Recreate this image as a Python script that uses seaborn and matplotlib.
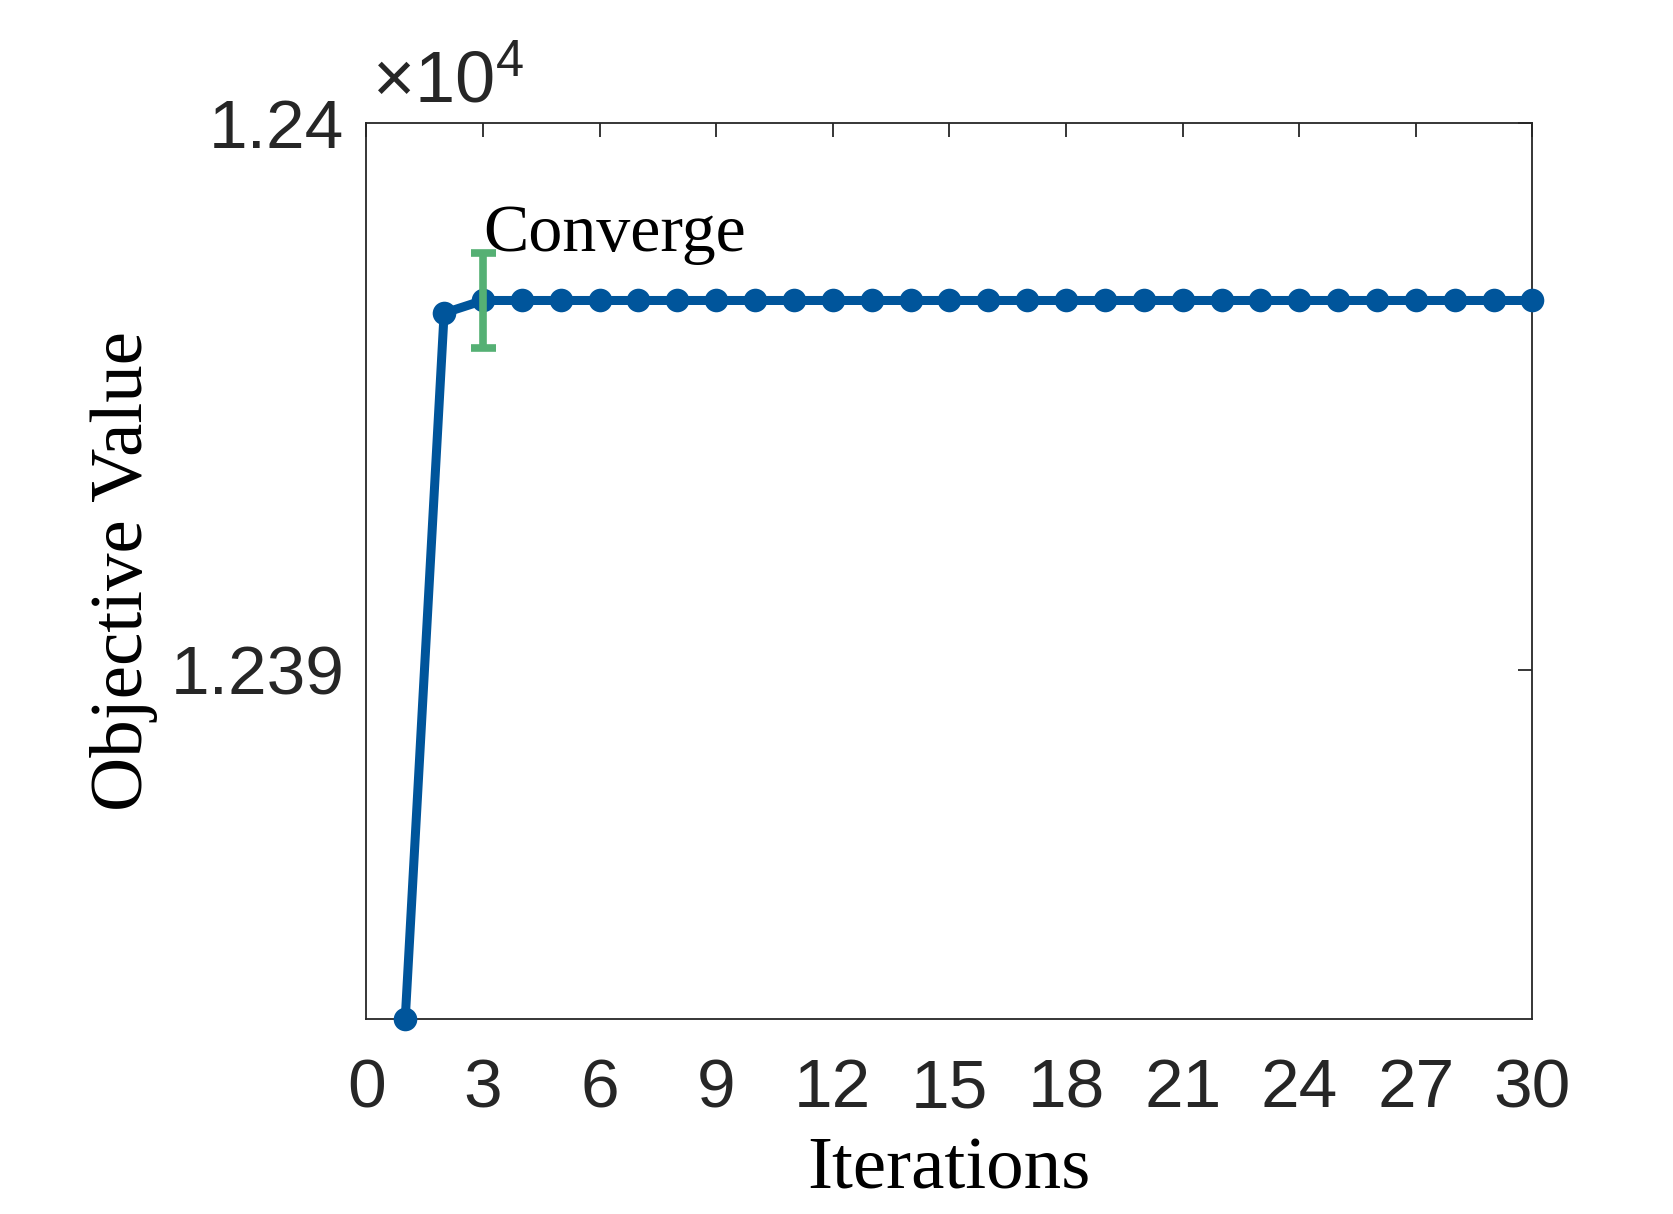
import matplotlib
matplotlib.use("Agg")
import matplotlib.pyplot as plt
import matplotlib.ticker as mticker
import numpy as np
import pandas as pd
import seaborn as sns

# Objective value per iteration
iterations = list(range(1, 31))
objective = [12383.63, 12396.52] + [12396.75] * 28

# Convergence marker at iteration 3
conv_iter = 3
conv_value = 12396.75
conv_err = 0.87

x_ticks = list(range(0, 31, 3))
y_ticks = [12390, 12400]
y_tick_labels = ["1.239", "1.24"]

sns.set_style("white")
plt.rcParams["font.family"] = ["Liberation Sans", "DejaVu Sans"]
plt.rcParams["mathtext.fontset"] = "custom"
plt.rcParams["mathtext.rm"] = "Liberation Sans"
plt.rcParams["mathtext.it"] = "Liberation Sans"

df = pd.DataFrame({"Iterations": iterations, "Objective": objective})

fig, ax = plt.subplots(figsize=(16.73, 12.14), dpi=100)
fig.subplots_adjust(left=0.219, right=0.916, top=0.899, bottom=0.161)

sns.lineplot(data=df, x="Iterations", y="Objective", ax=ax, color="#00559B",
             linewidth=6.5, marker="o", markersize=17, markeredgewidth=0,
             clip_on=False, zorder=4)

ax.errorbar([conv_iter], [conv_value], yerr=[conv_err], color="#55B074",
            elinewidth=5.5, capsize=9, capthick=5.5, fmt="none", zorder=5)
ax.text(conv_iter, 12397.66, "Converge", family="Liberation Serif",
        fontsize=49, va="baseline", ha="left", color="black")

ax.set_xlim(0, 30)
ax.set_ylim(12383.63, 12400)
ax.set_xticks(x_ticks)
ax.set_yticks(y_ticks)
ax.yaxis.set_major_formatter(mticker.FixedFormatter(y_tick_labels))
ax.tick_params(direction="in", length=10, width=1.3, colors="#262626",
               labelsize=50, top=True, right=True)
ax.tick_params(axis="x", pad=28)
ax.tick_params(axis="y", pad=16)
for s in ax.spines.values():
    s.set_color("#262626")
    s.set_linewidth(1.3)

ax.text(0.005, 1.022, r"$\times10^{4}$", transform=ax.transAxes,
        fontsize=52, va="baseline", ha="left", color="#262626")

ax.set_xlabel("Iterations", family="Liberation Serif", fontsize=54,
              color="black", labelpad=11)
ax.set_ylabel("Objective Value", family="Liberation Serif", fontsize=54,
              color="black", labelpad=9)

fig.savefig("out.png", dpi=100)
